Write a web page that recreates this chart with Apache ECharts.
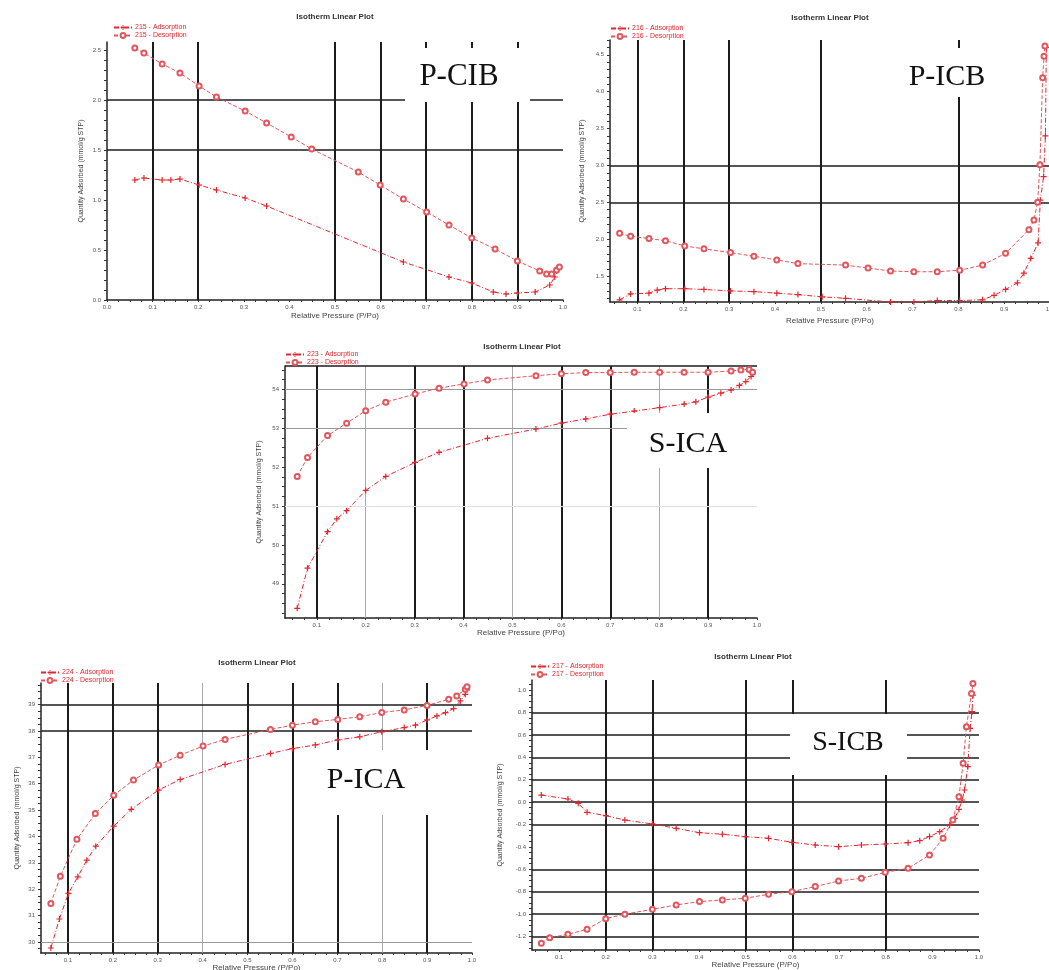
<!DOCTYPE html>
<html>
<head>
<meta charset="utf-8">
<script src="https://cdn.jsdelivr.net/npm/echarts@6/dist/echarts.min.js"></script>
<style>html,body{margin:0;padding:0;background:#fff}#c{width:1049px;height:970px}</style>
</head>
<body>
<div id="c"></div>
<script>
// ---------- data ----------
// P-CIB (215)
const pcibAdsX = [0.061,0.081,0.121,0.140,0.160,0.202,0.240,0.303,0.350,0.650,0.750,0.800,0.847,0.875,0.900,0.939,0.971,0.982,0.992];
const pcibAdsY = [1.20,1.22,1.20,1.20,1.21,1.15,1.10,1.02,0.94,0.38,0.23,0.17,0.08,0.06,0.07,0.08,0.15,0.23,0.33];
const pcibDesX = [0.061,0.081,0.121,0.160,0.202,0.240,0.303,0.350,0.404,0.449,0.551,0.599,0.650,0.701,0.750,0.800,0.851,0.900,0.949,0.964,0.975,0.986,0.992];
const pcibDesY = [2.52,2.47,2.36,2.27,2.14,2.03,1.89,1.77,1.63,1.51,1.28,1.15,1.01,0.88,0.75,0.62,0.51,0.39,0.29,0.26,0.26,0.30,0.33];
// P-ICB (216)
const picbAdsX = [0.061,0.085,0.125,0.143,0.161,0.203,0.245,0.303,0.354,0.404,0.450,0.503,0.554,0.652,0.703,0.754,0.803,0.853,0.878,0.903,0.929,0.943,0.958,0.974,0.979,0.986,0.990,0.992];
const picbAdsY = [1.18,1.26,1.27,1.31,1.33,1.33,1.32,1.30,1.29,1.27,1.25,1.22,1.20,1.15,1.15,1.17,1.17,1.18,1.24,1.32,1.41,1.54,1.74,1.95,2.53,2.85,3.40,4.60];
const picbDesX = [0.061,0.085,0.125,0.161,0.203,0.245,0.303,0.354,0.404,0.450,0.554,0.603,0.652,0.703,0.754,0.803,0.853,0.903,0.954,0.965,0.973,0.978,0.984,0.987,0.989];
const picbDesY = [2.08,2.04,2.01,1.98,1.91,1.87,1.82,1.77,1.72,1.67,1.65,1.61,1.57,1.56,1.56,1.58,1.65,1.81,2.13,2.26,2.50,3.01,4.19,4.48,4.62];
// S-ICA (223)
const sicaAdsX = [0.060,0.081,0.122,0.141,0.161,0.200,0.241,0.301,0.350,0.449,0.548,0.600,0.650,0.700,0.749,0.801,0.851,0.875,0.900,0.926,0.947,0.964,0.977,0.988,0.991];
const sicaAdsY = [48.37,49.40,50.34,50.67,50.88,51.40,51.76,52.12,52.38,52.74,52.98,53.13,53.24,53.36,53.44,53.53,53.62,53.68,53.80,53.90,53.98,54.10,54.20,54.33,54.41];
const sicaDesX = [0.060,0.081,0.122,0.161,0.200,0.241,0.301,0.350,0.401,0.449,0.548,0.600,0.650,0.700,0.749,0.801,0.851,0.900,0.947,0.967,0.984,0.991];
const sicaDesY = [51.76,52.25,52.81,53.13,53.45,53.67,53.88,54.03,54.14,54.24,54.35,54.40,54.43,54.43,54.44,54.44,54.44,54.44,54.47,54.50,54.51,54.44];
// P-ICA (224)
const picaAdsX = [0.062,0.081,0.101,0.122,0.142,0.162,0.202,0.241,0.302,0.350,0.450,0.551,0.600,0.651,0.701,0.750,0.799,0.849,0.874,0.900,0.922,0.941,0.959,0.974,0.985,0.989];
const picaAdsY = [29.77,30.87,31.84,32.47,33.10,33.63,34.39,35.03,35.76,36.16,36.73,37.15,37.33,37.47,37.66,37.78,37.97,38.13,38.22,38.42,38.57,38.70,38.85,39.14,39.39,39.56];
const picaDesX = [0.062,0.083,0.120,0.161,0.202,0.246,0.302,0.350,0.401,0.450,0.551,0.600,0.651,0.701,0.750,0.799,0.849,0.900,0.948,0.966,0.985,0.989];
const picaDesY = [31.46,32.49,33.89,34.87,35.56,36.14,36.71,37.08,37.43,37.68,38.06,38.22,38.35,38.44,38.54,38.70,38.80,38.97,39.20,39.33,39.58,39.68];
// S-ICB (217)
const sicbAdsX = [0.062,0.119,0.141,0.160,0.200,0.241,0.300,0.351,0.401,0.450,0.499,0.549,0.599,0.649,0.699,0.748,0.799,0.848,0.873,0.894,0.916,0.937,0.948,0.957,0.964,0.969,0.976,0.981,0.985,0.987];
const sicbAdsY = [0.063,0.028,-0.011,-0.091,-0.121,-0.160,-0.195,-0.234,-0.273,-0.287,-0.308,-0.323,-0.359,-0.383,-0.398,-0.383,-0.374,-0.362,-0.344,-0.308,-0.264,-0.204,-0.145,-0.065,0.019,0.108,0.316,0.658,0.807,0.955];
const sicbDesX = [0.062,0.080,0.119,0.160,0.200,0.241,0.300,0.351,0.401,0.450,0.499,0.549,0.599,0.649,0.699,0.748,0.799,0.848,0.894,0.923,0.944,0.957,0.966,0.973,0.984,0.987];
const sicbDesY = [-1.26,-1.21,-1.18,-1.135,-1.04,-1.00,-0.957,-0.918,-0.888,-0.873,-0.858,-0.823,-0.799,-0.754,-0.704,-0.680,-0.627,-0.591,-0.472,-0.323,-0.160,0.048,0.346,0.673,0.970,1.059];

// tick labels
const xLabelsFull = [0,0.1,0.2,0.3,0.4,0.5,0.6,0.7,0.8,0.9,1.0];
const xLabels = [0.1,0.2,0.3,0.4,0.5,0.6,0.7,0.8,0.9,1.0];
const pcibYLabels = [0,0.5,1.0,1.5,2.0,2.5];
const picbYLabels = [1.5,2.0,2.5,3.0,3.5,4.0,4.5];
const sicaYLabels = [49,50,51,52,53,54];
const picaYLabels = [30,31,32,33,34,35,36,37,38,39];
const sicbYLabels = [-1.2,-1.0,-0.8,-0.6,-0.4,-0.2,0.0,0.2,0.4,0.6,0.8,1.0];

// series names / panel labels
const sampleIds = ['215','216','223','224','217'];
const panelNames = ['P-CIB','P-ICB','S-ICA','P-ICA','S-ICB'];

// gridline values per panel
const gridBlackX = [[0.1,0.2,0.5,0.6,0.7,0.8,0.9],[0.1,0.2,0.3,0.5,0.8],[0.1,0.3,0.4,0.6,0.7,0.9],[0.1,0.2,0.3,0.5,0.6,0.7,0.9],[0.2,0.3,0.5,0.6,0.8]];
const gridGreyX  = [[],[],[0.2,0.5,0.8],[0.4,0.8],[]];
const gridBlackY = [[2.0,1.5],[3.0,2.5],[54.6],[39,38],[0.8,0.6,0.4,0.2,0.0,-0.2,-0.6,-0.8,-1.0,-1.2]];
const gridGreyY  = [[],[],[54,53],[30],[]];
const gridFaintY = [[],[],[51],[],[]];

// ---------- layout ----------
const grids = [
  {left:107, top:42,  width:456, height:258},
  {left:610, top:40,  width:440, height:262},
  {left:285, top:366, width:472, height:252},
  {left:41,  top:683, width:431, height:270},
  {left:532, top:680, width:447, height:270}
];
const xRanges = [[0,1],[0.04,1],[0.035,1],[0.04,1],[0.042,1]];
const yRanges = [[0,2.58],[1.15,4.70],[48.12,54.6],[29.58,39.82],[-1.32,1.09]];
const yLabelSets = [pcibYLabels,picbYLabels,sicaYLabels,picaYLabels,sicbYLabels];
const xLabelSets = [xLabelsFull,xLabels,xLabels,xLabels,xLabels];
const yDec = [1,1,0,0,1];
const titlePos = [[335,13],[830,14],[522,343],[257,659],[753,653]];
const legendPos = [[113,24],[610,25],[285,351],[40,669],[530,663]];
const yNameGap = [22,24,22,20,28];
const xNameGap = [12,15,9,10,9];
const boxes = [
  {x:405,y:48,w:125,h:54, cx:459, cy:77, fs:31},
  {x:890,y:48,w:120,h:49, cx:947, cy:77, fs:30},
  {x:627,y:413,w:130,h:55, cx:688, cy:444, fs:30},
  {x:318,y:750,w:154,h:65, cx:366, cy:780, fs:30},
  {x:790,y:714,w:117,h:61, cx:848, cy:743, fs:28}
];

const RED = '#e3262e';
const PLUS = 'path://M4 0h2v4h4v2h-4v4h-2v-4h-4v-2h4z';
function zip(xs, ys){ return xs.map((x,i)=>[x, ys[i]]); }
function ticks(lo, hi, step){ const r=[]; const s=Math.ceil(lo/step-1e-9); for(let k=s; k*step<=hi+1e-9; k++) r.push(+(k*step).toFixed(4)); return r; }
const xTickStep = [0.025,0.025,0.025,0.025,0.025];
const yTickStep = [0.1,0.1,0.25,0.25,0.05];

const allData = [
  [pcibAdsX,pcibAdsY,pcibDesX,pcibDesY],
  [picbAdsX,picbAdsY,picbDesX,picbDesY],
  [sicaAdsX,sicaAdsY,sicaDesX,sicaDesY],
  [picaAdsX,picaAdsY,picaDesX,picaDesY],
  [sicbAdsX,sicbAdsY,sicbDesX,sicbDesY]
];

const option = {
  animation:false,
  backgroundColor:'#fff',
  title:[], legend:[], grid:[], xAxis:[], yAxis:[], series:[], graphic:[]
};

for (let i=0;i<5;i++){
  const g = grids[i];
  option.grid.push({left:g.left, top:g.top, width:g.width, height:g.height, containLabel:false, outerBoundsMode:'none'});
  option.title.push({text:'Isotherm Linear Plot', left:titlePos[i][0], top:titlePos[i][1], textAlign:'center', padding:0,
    textStyle:{fontSize:8, fontWeight:'bold', color:'#333', fontFamily:'Liberation Sans'}});
  const adsName = sampleIds[i] + ' - Adsorption', desName = sampleIds[i] + ' - Desorption';
  option.legend.push({data:[adsName, desName], left:legendPos[i][0], top:legendPos[i][1], orient:'vertical', padding:0,
    itemGap:1, itemWidth:18, itemHeight:6, selectedMode:false,
    textStyle:{fontSize:7, color:RED, fontFamily:'Liberation Sans', padding:[0,0,0,-2]}});
  const xr = xRanges[i], yr = yRanges[i];
  option.xAxis.push({type:'value', gridIndex:i, min:xr[0], max:xr[1],
    name:'Relative Pressure (P/Po)', nameLocation:'middle', nameGap:xNameGap[i],
    nameTextStyle:{fontSize:8, color:'#444', fontFamily:'Liberation Sans'},
    axisLine:{onZero:false, lineStyle:{color:'#222', width:1.5}},
    axisTick:{customValues:ticks(xr[0],xr[1],xTickStep[i]), length:2, lineStyle:{color:'#333'}},
    axisLabel:{customValues:xLabelSets[i], fontSize:6, color:'#555', margin:4, fontFamily:'Liberation Sans', formatter:v=>v.toFixed(1)},
    splitLine:{show:false}});
  option.yAxis.push({type:'value', gridIndex:i, min:yr[0], max:yr[1],
    name:'Quantity Adsorbed (mmol/g STP)', nameLocation:'middle', nameGap:yNameGap[i],
    nameTextStyle:{fontSize:7, color:'#444', fontFamily:'Liberation Sans'},
    axisLine:{onZero:false, lineStyle:{color:'#222', width:1.5}},
    axisTick:{customValues:ticks(yr[0],yr[1],yTickStep[i]), length:3, lineStyle:{color:'#333'}},
    axisLabel:{customValues:yLabelSets[i], fontSize:6, color:'#555', margin:6, fontFamily:'Liberation Sans', formatter:v=>v.toFixed(yDec[i])},
    splitLine:{show:false}});

  const ml = [];
  gridBlackX[i].forEach(v=>ml.push({xAxis:v, lineStyle:{color:'#1c1c1c', width:2, type:'solid'}}));
  gridGreyX[i].forEach(v=>ml.push({xAxis:v, lineStyle:{color:'#aaaaaa', width:1, type:'solid'}}));
  gridBlackY[i].forEach(v=>ml.push({yAxis:v, lineStyle:{color:'#1c1c1c', width:1.5, type:'solid'}}));
  gridGreyY[i].forEach(v=>ml.push({yAxis:v, lineStyle:{color:'#999999', width:1, type:'solid'}}));
  gridFaintY[i].forEach(v=>ml.push({yAxis:v, lineStyle:{color:'#e2e2e2', width:1, type:'solid'}}));

  const d = allData[i];
  option.series.push({type:'line', name:adsName, xAxisIndex:i, yAxisIndex:i, data:zip(d[0],d[1]),
    symbol:PLUS, symbolSize:6, itemStyle:{color:RED}, lineStyle:{color:RED, width:1, type:[5,2,1,2]}, z:3,
    markLine:{silent:true, symbol:['none','none'], label:{show:false}, emphasis:{disabled:true}, data:ml, z:1}});
  option.series.push({type:'line', name:desName, xAxisIndex:i, yAxisIndex:i, data:zip(d[2],d[3]),
    symbol:'emptyCircle', symbolSize:5, itemStyle:{color:'#e2575d', borderWidth:0.8}, lineStyle:{color:'#e2575d', width:1, type:[4,2]}, z:3});

  const b = boxes[i];
  option.graphic.push({type:'rect', shape:{x:b.x, y:b.y, width:b.w, height:b.h}, style:{fill:'#ffffff'}, z:100, silent:true});
  option.graphic.push({type:'text', x:b.cx, y:b.cy, style:{text:panelNames[i], fontSize:b.fs, fontFamily:'Liberation Serif', fill:'#111', align:'center', verticalAlign:'middle'}, z:101, silent:true});
}

const chart = echarts.init(document.getElementById('c'), null, {renderer:'canvas'});
chart.setOption(option);
</script>
</body>
</html>
